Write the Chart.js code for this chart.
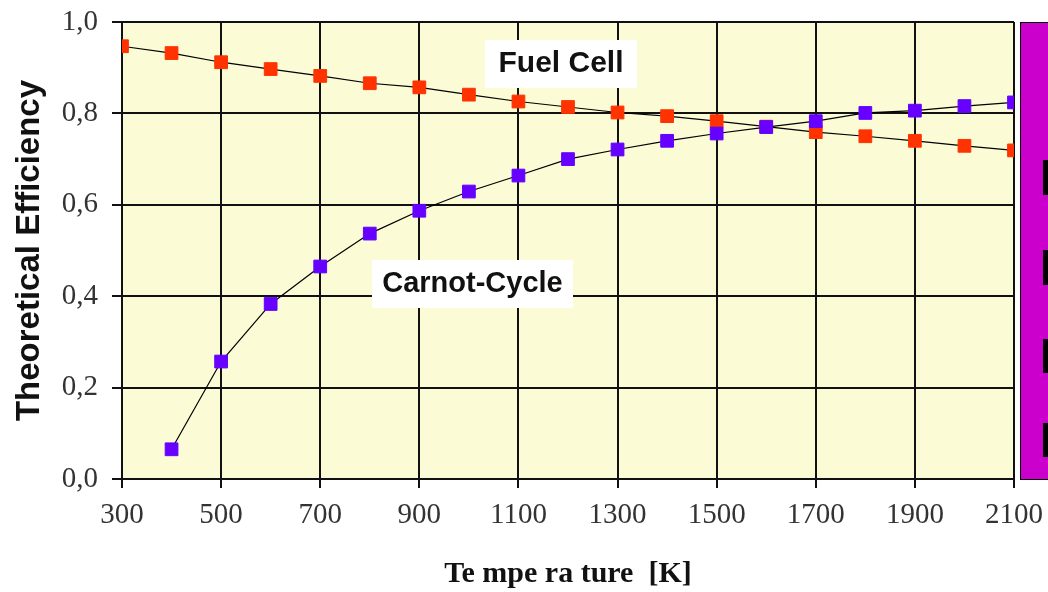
<!DOCTYPE html>
<html>
<head>
<meta charset="utf-8">
<script src="https://cdn.jsdelivr.net/npm/chart.js@4/dist/chart.umd.min.js"></script>
<style>
  html, body { margin: 0; padding: 0; background: #ffffff; }
  #wrap { width: 1048px; height: 592px; }
</style>
</head>
<body>
<div id="wrap"><canvas id="c" width="1048" height="592"></canvas></div>
<script>
const temperatures = [300, 400, 500, 600, 700, 800, 900, 1000, 1100, 1200, 1300, 1400, 1500, 1600, 1700, 1800, 1900, 2000, 2100];
const fuelCell = [0.947, 0.932, 0.912, 0.897, 0.882, 0.866, 0.857, 0.841, 0.826, 0.814, 0.802, 0.794, 0.783, 0.771, 0.759, 0.750, 0.740, 0.729, 0.719];
const carnot = [null, 0.065, 0.257, 0.383, 0.465, 0.537, 0.587, 0.629, 0.664, 0.700, 0.721, 0.740, 0.756, 0.770, 0.783, 0.801, 0.806, 0.816, 0.824];
const xTickValues = [300, 500, 700, 900, 1100, 1300, 1500, 1700, 1900, 2100];
const yTickValues = [0, 0.2, 0.4, 0.6, 0.8, 1.0];
const seriesLabels = ['Fuel Cell', 'Carnot-Cycle'];
const xTitle = 'Te mpe ra ture  [K]';
const yTitle = 'Theoretical Efficiency';

function toPoints(vals) {
  const out = [];
  temperatures.forEach((t, i) => { if (vals[i] !== null) out.push({ x: t, y: vals[i] }); });
  return out;
}

const decor = {
  id: 'decor',
  beforeDraw(chart) {
    const { ctx, chartArea: a } = chart;
    ctx.save();
    ctx.fillStyle = '#FBFBD6';
    ctx.fillRect(a.left, a.top, a.right - a.left, a.bottom - a.top);
    ctx.restore();
  },
  beforeDatasetsDraw(chart) {
    const { ctx } = chart;
    ctx.save();
    ctx.fillStyle = '#ffffff';
    ctx.fillRect(485, 40, 152, 48);
    ctx.fillRect(372, 260, 201, 48);
    ctx.fillStyle = '#111111';
    ctx.font = 'bold 30px "Liberation Sans", Arial, sans-serif';
    ctx.textAlign = 'center';
    ctx.textBaseline = 'alphabetic';
    ctx.fillText(seriesLabels[0], 561, 72);
    ctx.font = 'bold 29px "Liberation Sans", Arial, sans-serif';
    ctx.fillText(seriesLabels[1], 472.5, 292);
    ctx.restore();
  },
  afterDraw(chart) {
    const { ctx, chartArea: a } = chart;
    ctx.save();
    ctx.fillStyle = '#CC00CC';
    ctx.fillRect(1020, a.top, 40, a.bottom - a.top + 1);
    ctx.strokeStyle = '#000000';
    ctx.lineWidth = 1;
    ctx.strokeRect(1020.5, a.top + 0.5, 40, a.bottom - a.top);
    ctx.fillStyle = '#000000';
    [[160, 195], [250, 285], [339, 373], [423, 457]].forEach(([y0, y1]) => {
      ctx.fillRect(1043, y0, 6, y1 - y0);
    });
    ctx.restore();
  }
};

new Chart(document.getElementById('c'), {
  type: 'line',
  data: {
    datasets: [
      {
        label: seriesLabels[1],
        data: toPoints(carnot),
        borderColor: '#000000',
        borderWidth: 1.2,
        pointStyle: 'rect',
        pointRadius: 9,
        pointBorderWidth: 1,
        pointBackgroundColor: '#6600FF',
        pointBorderColor: '#6600FF',
        tension: 0,
        fill: false
      },
      {
        label: seriesLabels[0],
        data: toPoints(fuelCell),
        borderColor: '#000000',
        borderWidth: 1.2,
        pointStyle: 'rect',
        pointRadius: 9,
        pointBorderWidth: 1,
        pointBackgroundColor: '#FF3300',
        pointBorderColor: '#FF3300',
        tension: 0,
        fill: false
      }
    ]
  },
  options: {
    responsive: false,
    animation: false,
    devicePixelRatio: 1,
    layout: { padding: { top: 22, right: 34, left: 0, bottom: 0 } },
    plugins: { legend: { display: false }, tooltip: { enabled: false } },
    elements: { point: { hoverRadius: 9 } },
    scales: {
      x: {
        type: 'linear',
        min: 300,
        max: 2100,
        afterBuildTicks(scale) { scale.ticks = xTickValues.map(v => ({ value: v })); },
        afterFit(scale) { scale.height = 113; scale.paddingLeft = 0; scale.paddingRight = 0; },
        grid: { color: '#111111', lineWidth: 2, tickLength: 9, drawTicks: true },
        border: { color: '#111111', width: 2 },
        ticks: {
          padding: 10,
          color: '#333333',
          font: { family: '"Liberation Serif", "Times New Roman", serif', size: 29 },
          callback: v => String(v),
          maxRotation: 0
        },
        title: {
          display: true,
          text: xTitle,
          color: '#111111',
          font: { family: '"Liberation Serif", "Times New Roman", serif', size: 30, weight: 'bold' },
          padding: { top: 0, bottom: 0 }
        }
      },
      y: {
        min: 0,
        max: 1,
        afterBuildTicks(scale) { scale.ticks = yTickValues.map(v => ({ value: v })); },
        afterFit(scale) { scale.width = 122; scale.paddingTop = 0; scale.paddingBottom = 0; },
        grid: { color: '#111111', lineWidth: 2, tickLength: 10, drawTicks: true },
        border: { color: '#111111', width: 2 },
        ticks: {
          padding: 14,
          color: '#333333',
          font: { family: '"Liberation Serif", "Times New Roman", serif', size: 29 },
          callback: v => Number(v).toFixed(1).replace('.', ',')
        },
        title: {
          display: true,
          text: yTitle,
          color: '#111111',
          font: { family: '"Liberation Sans", Arial, sans-serif', size: 33, weight: 'bold' },
          padding: { top: 10, bottom: 0 }
        }
      }
    }
  },
  plugins: [decor]
});
</script>
</body>
</html>
